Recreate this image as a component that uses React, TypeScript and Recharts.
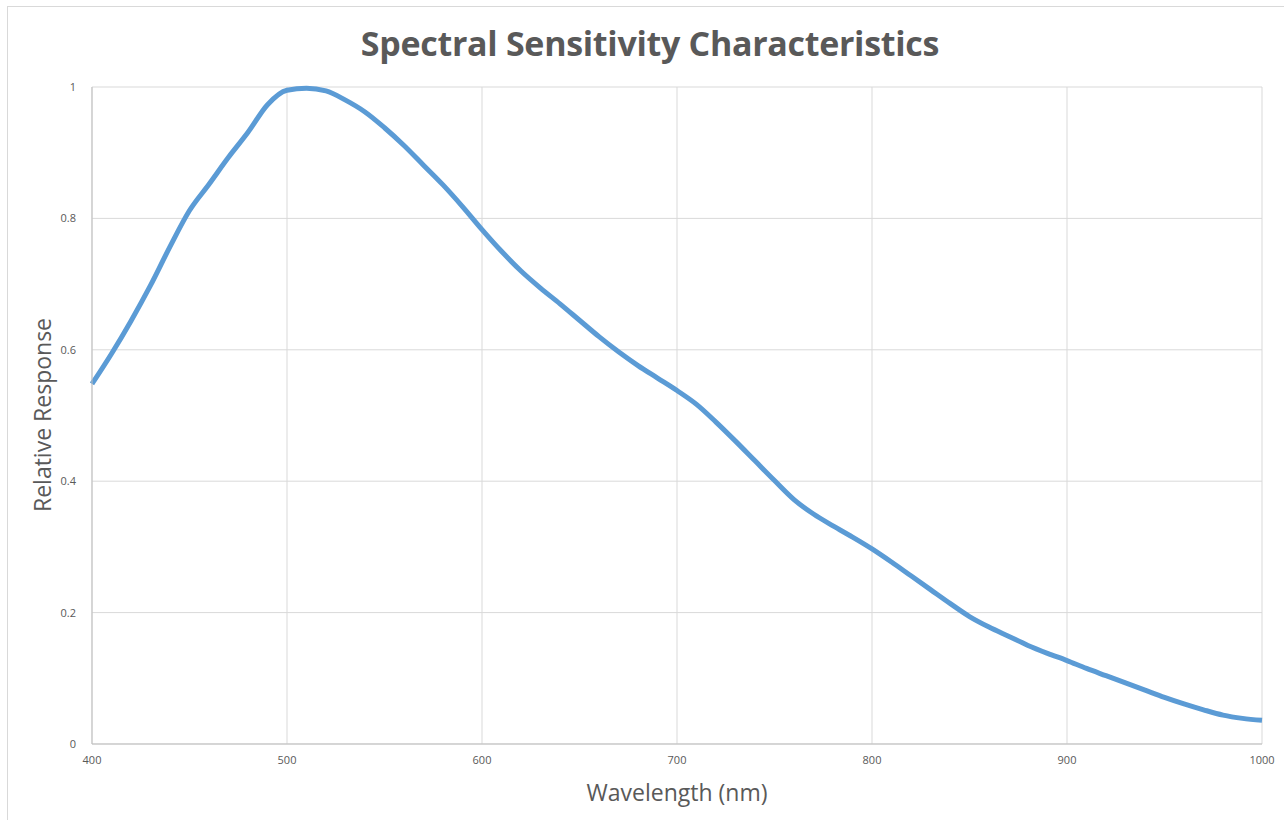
import { LineChart, Line, XAxis, YAxis, CartesianGrid } from 'recharts';

const WAVELENGTHS = [
  400, 410, 420, 430, 440, 450, 460, 470, 480, 490, 500, 510, 520, 530, 540, 550, 560, 570, 580, 590,
  600, 610, 620, 630, 640, 650, 660, 670, 680, 690, 700, 710, 720, 730, 740, 750, 760, 770, 780, 790,
  800, 810, 820, 830, 840, 850, 860, 870, 880, 890, 900, 910, 920, 930, 940, 950, 960, 970, 980, 990, 1000,
];

const RESPONSE = [
  0.548, 0.594, 0.644, 0.698, 0.757, 0.812, 0.852, 0.893, 0.931, 0.973, 0.995, 0.998, 0.994, 0.98, 0.962,
  0.938, 0.911, 0.881, 0.851, 0.818, 0.783, 0.75, 0.72, 0.694, 0.67, 0.645, 0.62, 0.597, 0.576, 0.557,
  0.538, 0.517, 0.49, 0.461, 0.431, 0.401, 0.372, 0.35, 0.332, 0.315, 0.297, 0.277, 0.256, 0.235, 0.214,
  0.194, 0.178, 0.164, 0.15, 0.138, 0.127, 0.115, 0.104, 0.093, 0.082, 0.071, 0.061, 0.052, 0.044, 0.039, 0.036,
];

const X_TICKS = [400, 500, 600, 700, 800, 900, 1000];
const Y_TICKS = [0, 0.2, 0.4, 0.6, 0.8, 1];

const data = WAVELENGTHS.map((w, i) => ({ wavelength: w, response: RESPONSE[i] }));

const TEXT = '#595959';
const FONT = '"Open Sans", "Noto Sans", sans-serif';

export default function App() {
  return (
    <div style={{ position: 'absolute', left: 0, top: 0, width: 1284, height: 820, background: '#fff', overflow: 'hidden', fontFamily: FONT }}>
      <div style={{ position: 'absolute', left: 7, top: 6, width: 1300, height: 840, borderLeft: '1px solid #d9d9d9', borderTop: '1px solid #d9d9d9' }} />
      <div style={{ position: 'absolute', left: 0, width: 1300, top: 20, textAlign: 'center', fontSize: 34, fontWeight: 700, color: TEXT, letterSpacing: -0.3 }}>
        Spectral Sensitivity Characteristics
      </div>
      <div style={{ position: 'absolute', left: 42, top: 415, transform: 'translate(-50%, -50%) rotate(-90deg)', whiteSpace: 'nowrap', fontSize: 23, color: TEXT }}>
        Relative Response
      </div>
      <div style={{ position: 'absolute', left: 677, top: 792, transform: 'translate(-50%, -50%)', whiteSpace: 'nowrap', fontSize: 23, color: TEXT }}>
        Wavelength (nm)
      </div>
      <div style={{ position: 'absolute', left: 0, top: 0 }}>
        <LineChart width={1284} height={820} data={data} margin={{ top: 87, right: 22, bottom: 0, left: 0 }}>
          <CartesianGrid stroke="#d9d9d9" strokeWidth={1} />
          <XAxis
            dataKey="wavelength"
            type="number"
            domain={[400, 1000]}
            ticks={X_TICKS}
            tickLine={false}
            axisLine={{ stroke: '#bfbfbf' }}
            tick={{ fill: TEXT, fontSize: 11, fontFamily: FONT }}
            tickMargin={6}
            height={76}
          />
          <YAxis
            type="number"
            domain={[0, 1]}
            ticks={Y_TICKS}
            tickLine={false}
            axisLine={{ stroke: '#bfbfbf' }}
            tick={{ fill: TEXT, fontSize: 11, fontFamily: FONT }}
            tickMargin={10}
            width={92}
          />
          <Line
            type="monotone"
            dataKey="response"
            stroke="#5b9bd5"
            strokeWidth={5}
            dot={false}
            isAnimationActive={false}
          />
        </LineChart>
      </div>
    </div>
  );
}
